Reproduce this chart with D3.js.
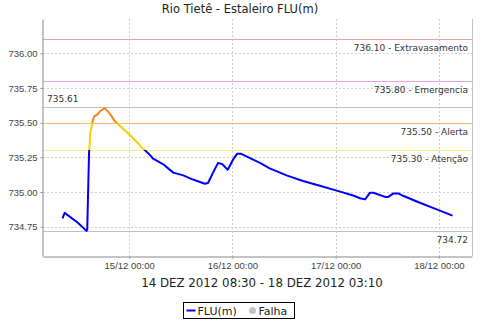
<!DOCTYPE html>
<html>

<head>
    <title>Rio Tietê - Estaleiro FLU(m)</title>
    <meta charset="UTF-8">
    <style>
        body {
            margin: 0;
            background-color: #fff;
        }

        svg {
            display: block;
            font-family: 'DejaVu Sans', sans-serif;
        }

        .axis path,
        .axis line {
            stroke: #888;
        }

        .axis text {
            fill: #444;
            font-size: 9.5px;
        }

        .grid line {
            stroke: #d0d0d0;
            stroke-dasharray: 2, 2;
        }
    </style>
</head>

<body>
    <svg width="480" height="320"></svg>
    <script src="https://d3js.org/d3.v7.min.js"></script>
    <script>
        // readings (time, level in m)
        let times = [
            "2012-12-14 08:30", "2012-12-14 09:00", "2012-12-14 12:00", "2012-12-14 14:05", "2012-12-14 14:15",
            "2012-12-14 14:40", "2012-12-14 15:00", "2012-12-14 15:15", "2012-12-14 15:30", "2012-12-14 15:50",
            "2012-12-14 16:40", "2012-12-14 17:10", "2012-12-14 18:20", "2012-12-14 19:30", "2012-12-14 20:40",
            "2012-12-14 23:00", "2012-12-15 01:20", "2012-12-15 03:00", "2012-12-15 04:25", "2012-12-15 05:35",
            "2012-12-15 07:55", "2012-12-15 10:15", "2012-12-15 12:35", "2012-12-15 14:50", "2012-12-15 17:35",
            "2012-12-15 18:20", "2012-12-15 19:30", "2012-12-15 20:40", "2012-12-15 21:40", "2012-12-15 22:55",
            "2012-12-16 00:10", "2012-12-16 01:05", "2012-12-16 02:05", "2012-12-16 04:05", "2012-12-16 06:25",
            "2012-12-16 08:40", "2012-12-16 12:35", "2012-12-16 16:25", "2012-12-16 20:20", "2012-12-17 00:15",
            "2012-12-17 04:05", "2012-12-17 05:40", "2012-12-17 06:50", "2012-12-17 08:00", "2012-12-17 08:45",
            "2012-12-17 11:30", "2012-12-17 12:15", "2012-12-17 13:25", "2012-12-17 14:35", "2012-12-17 15:40",
            "2012-12-17 19:35", "2012-12-17 23:30", "2012-12-18 03:10"
        ];
        let levels = [
            734.81, 734.85, 734.78, 734.72, 734.73,
            735.28, 735.435, 735.47, 735.51, 735.545,
            735.56, 735.58, 735.605, 735.565, 735.51,
            735.445, 735.375, 735.32, 735.28, 735.24,
            735.20, 735.14, 735.12, 735.09, 735.06,
            735.065, 735.14, 735.21, 735.20, 735.16,
            735.235, 735.275, 735.275, 735.245, 735.21,
            735.17, 735.12, 735.08, 735.045, 735.01,
            734.975, 734.955, 734.947, 734.995, 734.995,
            734.965, 734.965, 734.99, 734.99, 734.973,
            734.923, 734.875, 734.83
        ];

        // threshold markers
        let markerValues = [736.10, 735.80, 735.50, 735.30];
        let markerNames = ["Extravasamento", "Emergencia", "Alerta", "Atenção"];
        let markerColors = ["#f2a0a0", "#eaa0ee", "#f8b868", "#f8f088"];
        let maxValue = 735.61, minValue = 734.72;

        let yTicks = [734.75, 735.00, 735.25, 735.50, 735.75, 736.00];
        let xTicks = ["2012-12-15 00:00", "2012-12-16 00:00", "2012-12-17 00:00", "2012-12-18 00:00"];

        let title = "Rio Tietê - Estaleiro FLU(m)";
        let xLabel = "14 DEZ 2012 08:30 - 18 DEZ 2012 03:10";

        let parse = d3.utcParse("%Y-%m-%d %H:%M");
        let data = times.map((t, i) => ({ t: parse(t), v: levels[i] }));

        let svg = d3.select("svg");
        let pLeft = 43, pRight = 472, pTop = 19, pBottom = 256;

        // 5% margins each side like the original
        let t0 = data[0].t, t1 = data[data.length - 1].t;
        let pad = (t1 - t0) * 0.05;
        let x = d3.scaleUtc()
            .domain([new Date(+t0 - pad), new Date(+t1 + pad)])
            .range([pLeft, pRight]);

        let y = d3.scaleLinear()
            .domain([734.539, 736.247])
            .range([pBottom, pTop]);

        svg.append("rect")
            .attr("width", 480).attr("height", 320).attr("fill", "#fff");

        // grid
        let grid = svg.append("g").attr("class", "grid");
        grid.selectAll(".gy").data(yTicks).enter().append("line")
            .attr("x1", pLeft).attr("x2", pRight)
            .attr("y1", d => Math.round(y(d)) + 0.5).attr("y2", d => Math.round(y(d)) + 0.5);
        grid.selectAll(".gx").data(xTicks.map(parse)).enter().append("line")
            .attr("y1", pTop).attr("y2", pBottom)
            .attr("x1", d => Math.round(x(d)) + 0.5).attr("x2", d => Math.round(x(d)) + 0.5);

        // marker lines
        let markers = svg.append("g");
        markers.selectAll("line.m").data(markerValues).enter().append("line")
            .attr("x1", pLeft).attr("x2", pRight)
            .attr("y1", d => Math.round(y(d)) + 0.5).attr("y2", d => Math.round(y(d)) + 0.5)
            .attr("stroke", (d, i) => markerColors[i]);
        markers.selectAll("text.m").data(markerValues).enter().append("text")
            .attr("x", pRight - 4)
            .attr("y", d => y(d) + 12)
            .attr("text-anchor", "end")
            .attr("font-size", "9px")
            .attr("fill", "#333")
            .text((d, i) => d.toFixed(2) + " - " + markerNames[i]);

        [maxValue, minValue].forEach(v => {
            markers.append("line")
                .attr("x1", pLeft).attr("x2", pRight)
                .attr("y1", Math.round(y(v)) + 0.5).attr("y2", Math.round(y(v)) + 0.5)
                .attr("stroke", "#c0c0c0");
        });
        markers.append("text")
            .attr("x", pLeft + 4).attr("y", y(maxValue) - 5)
            .attr("font-size", "9px").attr("fill", "#333")
            .text(maxValue.toFixed(2));
        markers.append("text")
            .attr("x", pRight - 4).attr("y", y(minValue) + 12)
            .attr("text-anchor", "end")
            .attr("font-size", "9px").attr("fill", "#333")
            .text(minValue.toFixed(2));

        // line coloured by level
        let grad = svg.append("defs").append("linearGradient")
            .attr("id", "lvl")
            .attr("gradientUnits", "userSpaceOnUse")
            .attr("x1", 0).attr("x2", 0)
            .attr("y1", y(735.50)).attr("y2", y(735.30));
        [[0, "#f5831f"], [0, "#f5d000"], [1, "#f5d000"], [1, "#0000ff"]].forEach(s => {
            grad.append("stop").attr("offset", s[0]).attr("stop-color", s[1]);
        });

        let line = d3.line().x(d => x(d.t)).y(d => y(d.v));
        svg.append("path")
            .datum(data)
            .attr("d", line)
            .attr("fill", "none")
            .attr("stroke", "url(#lvl)")
            .attr("stroke-width", 2)
            .attr("stroke-linejoin", "round");

        // axes
        svg.append("g")
            .attr("class", "axis")
            .attr("transform", `translate(${pLeft - 0.5},0)`)
            .call(d3.axisLeft(y).tickValues(yTicks).tickFormat(d3.format(".2f")).tickSize(2).tickSizeOuter(0).tickPadding(3));
        svg.append("g")
            .attr("class", "axis")
            .attr("transform", `translate(0,${pBottom + 0.5})`)
            .call(d3.axisBottom(x).tickValues(xTicks.map(parse)).tickFormat(d3.utcFormat("%d/%m %H:%M")).tickSize(2).tickSizeOuter(0).tickPadding(4));
        svg.append("line")
            .attr("x1", pRight + 0.5).attr("x2", pRight + 0.5)
            .attr("y1", pTop).attr("y2", pBottom)
            .attr("stroke", "#c4c4c4");

        // titles
        svg.append("text")
            .attr("x", 240).attr("y", 13)
            .attr("text-anchor", "middle")
            .attr("font-size", "11.5px").attr("fill", "#222")
            .text(title);
        svg.append("text")
            .attr("x", 262).attr("y", 287)
            .attr("text-anchor", "middle")
            .attr("font-size", "11.8px").attr("fill", "#222")
            .text(xLabel);

        // legend
        let legend = svg.append("g").attr("transform", "translate(183.5,302.5)");
        legend.append("rect")
            .attr("width", 111).attr("height", 16)
            .attr("fill", "#fff").attr("stroke", "#000");
        legend.append("line")
            .attr("x1", 3).attr("x2", 12).attr("y1", 8).attr("y2", 8)
            .attr("stroke", "#0000ff").attr("stroke-width", 2);
        legend.append("text")
            .attr("x", 14).attr("y", 12).attr("font-size", "11px").attr("fill", "#222")
            .text("FLU(m)");
        legend.append("circle")
            .attr("cx", 69).attr("cy", 8).attr("r", 3.5).attr("fill", "#c4c4c4");
        legend.append("text")
            .attr("x", 75).attr("y", 12).attr("font-size", "11px").attr("fill", "#222")
            .text("Falha");
    </script>
</body>

</html>
